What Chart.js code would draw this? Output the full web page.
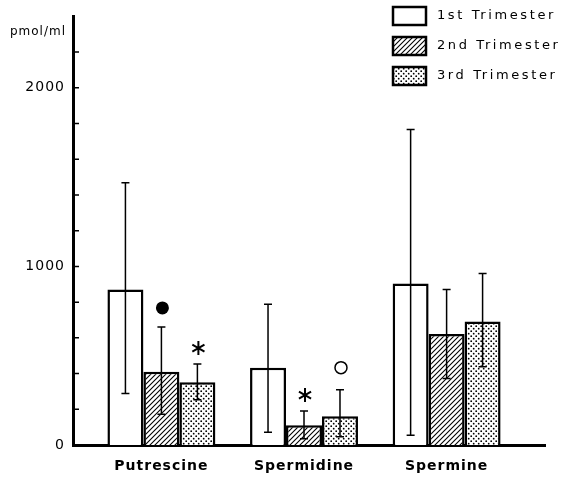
<!DOCTYPE html>
<html>
<head>
<meta charset="utf-8">
<script src="https://cdn.jsdelivr.net/npm/chart.js@4/dist/chart.umd.min.js"></script>
<style>
    body { margin: 0; background: #fff; }
    canvas { display: block; }
</style>
</head>
<body>
<canvas id="polyamine-chart" width="563" height="483"></canvas>
<script>
// values (pmol/ml)
const categories = ['Putrescine', 'Spermidine', 'Spermine'];
const seriesLabels = ['1st Trimester', '2nd Trimester', '3rd Trimester'];

const firstTri = [871, 432, 905];
const secondTri = [410, 111, 622];
const thirdTri = [351, 161, 692];

// error bar ends
const firstHigh = [1468, 788, 1767];
const firstLow = [288, 72, 55];
const secondHigh = [661, 190, 871];
const secondLow = [172, 35, 373];
const thirdHigh = [453, 310, 960];
const thirdLow = [253, 46, 438];

// significance marks above the bars
const firstMarks = ['', '', ''];
const secondMarks = ['dot', 'star', ''];
const thirdMarks = ['star', 'ring', ''];

const yMax = 2400;
const yStep = 200;
const yLabelStep = 1000;
const yUnit = 'pmol/ml';

function makePattern(kind) {
    const c = document.createElement('canvas');
    const pc = c.getContext('2d');
    c.width = 5; c.height = 5;
    pc.fillStyle = '#fff';
    pc.fillRect(0, 0, 5, 5);
    if (kind === 'hatch') {
        pc.strokeStyle = '#000';
        pc.lineWidth = 1.1;
        pc.beginPath();
        pc.moveTo(-1, 6); pc.lineTo(6, -1);
        pc.moveTo(-1, 1); pc.lineTo(1, -1);
        pc.moveTo(4, 6); pc.lineTo(6, 4);
        pc.stroke();
    } else {
        pc.fillStyle = '#000';
        [[1.2, 1.2], [3.7, 3.7]].forEach(([x, y]) => {
            pc.beginPath();
            pc.arc(x, y, 0.9, 0, Math.PI * 2);
            pc.fill();
        });
    }
    return pc.createPattern(c, 'repeat');
}

const fills = ['#ffffff', makePattern('hatch'), makePattern('dots')];
const seriesValues = [firstTri, secondTri, thirdTri];
const highs = [firstHigh, secondHigh, thirdHigh];
const lows = [firstLow, secondLow, thirdLow];
const marks = [firstMarks, secondMarks, thirdMarks];

const font = "'DejaVu Sans', sans-serif";

const figurePlugin = {
    id: 'figure',
    beforeDraw(chart) {
        chart.ctx.letterSpacing = '1px';
    },
    afterDatasetsDraw(chart) {
        const ctx = chart.ctx;
        const y = chart.scales.y;
        ctx.save();
        ctx.strokeStyle = '#000';
        ctx.fillStyle = '#000';
        chart.data.datasets.forEach((ds, i) => {
            const meta = chart.getDatasetMeta(i);
            meta.data.forEach((bar, j) => {
                const top = y.getPixelForValue(highs[i][j]);
                const bot = y.getPixelForValue(lows[i][j]);
                ctx.lineWidth = 1.5;
                ctx.beginPath();
                ctx.moveTo(bar.x, top); ctx.lineTo(bar.x, bot);
                ctx.moveTo(bar.x - 4, top); ctx.lineTo(bar.x + 4, top);
                ctx.moveTo(bar.x - 4, bot); ctx.lineTo(bar.x + 4, bot);
                ctx.stroke();

                const m = marks[i][j];
                if (m === 'dot') {
                    ctx.beginPath();
                    ctx.arc(bar.x + 1, top - 19, 6.5, 0, Math.PI * 2);
                    ctx.fill();
                } else if (m === 'ring') {
                    ctx.lineWidth = 1.5;
                    ctx.beginPath();
                    ctx.arc(bar.x + 1, top - 22, 6, 0, Math.PI * 2);
                    ctx.stroke();
                } else if (m === 'star') {
                    const cx = bar.x + 1;
                    const cy = top - 16;
                    ctx.lineWidth = 2;
                    ctx.beginPath();
                    for (let k = 0; k < 3; k++) {
                        const a = Math.PI / 2 + k * Math.PI / 3;
                        ctx.moveTo(cx - 7 * Math.cos(a), cy - 7 * Math.sin(a));
                        ctx.lineTo(cx + 7 * Math.cos(a), cy + 7 * Math.sin(a));
                    }
                    ctx.stroke();
                }
            });
        });
        ctx.restore();
    },
    afterDraw(chart) {
        const ctx = chart.ctx;
        const y = chart.scales.y;
        const area = chart.chartArea;
        ctx.save();
        // inward tick marks on the y axis
        ctx.strokeStyle = '#000';
        ctx.lineWidth = 1.5;
        ctx.beginPath();
        y.ticks.forEach(t => {
            if (t.value >= yMax) return;
            const py = y.getPixelForValue(t.value);
            ctx.moveTo(area.left, py);
            ctx.lineTo(area.left + 6, py);
        });
        ctx.stroke();

        // unit label
        ctx.fillStyle = '#000';
        ctx.font = '12px ' + font;
        ctx.letterSpacing = '1px';
        ctx.textAlign = 'right';
        ctx.textBaseline = 'middle';
        ctx.fillText(yUnit, 66, 32);

        // legend
        ctx.font = '13px ' + font;
        ctx.textAlign = 'left';
        ctx.letterSpacing = '2.6px';
        chart.data.datasets.forEach((ds, i) => {
            const cy = 16 + i * 30;
            ctx.fillStyle = ds.backgroundColor;
            ctx.fillRect(393, cy - 9, 33, 18);
            ctx.lineWidth = 2.5;
            ctx.strokeRect(393, cy - 9, 33, 18);
            ctx.fillStyle = '#000';
            ctx.fillText(ds.label, 437, cy);
        });
        ctx.restore();
    }
};

const ctx = document.getElementById('polyamine-chart').getContext('2d');
const chart = new Chart(ctx, {
    type: 'bar',
    data: {
        datasets: seriesValues.map((vals, i) => ({
            label: seriesLabels[i],
            data: categories.map((c, j) => ({ x: j, y: vals[j] })),
            backgroundColor: fills[i],
            borderColor: '#000',
            borderWidth: 2.5,
            categoryPercentage: 0.757,
            barPercentage: 1
        }))
    },
    options: {
        responsive: false,
        animation: false,
        layout: { padding: { top: 9, right: 18, left: 0, bottom: 0 } },
        plugins: {
            legend: { display: false },
            tooltip: { enabled: false }
        },
        scales: {
            x: {
                type: 'linear',
                offset: false,
                bounds: 'data',
                min: -0.62,
                max: 2.69,
                afterBuildTicks: s => { s.ticks = categories.map((c, j) => ({ value: j })); },
                afterFit: s => { s.height = 38; },
                grid: { display: false, drawTicks: false, offset: false },
                border: { display: true, color: '#000', width: 3 },
                ticks: {
                    autoSkip: false,
                    maxRotation: 0,
                    padding: 13,
                    color: '#000',
                    font: { family: font, size: 14, weight: 'bold' },
                    callback: v => categories[v] ?? ''
                }
            },
            y: {
                min: 0,
                max: yMax,
                afterFit: s => { s.width = 73; },
                grid: { display: false, drawTicks: false },
                border: { display: true, color: '#000', width: 3 },
                ticks: {
                    stepSize: yStep,
                    autoSkip: false,
                    padding: 8,
                    color: '#000',
                    font: { family: font, size: 14 },
                    callback: v => (v % yLabelStep === 0 ? v : '')
                }
            }
        }
    },
    plugins: [figurePlugin]
});
</script>
</body>
</html>
